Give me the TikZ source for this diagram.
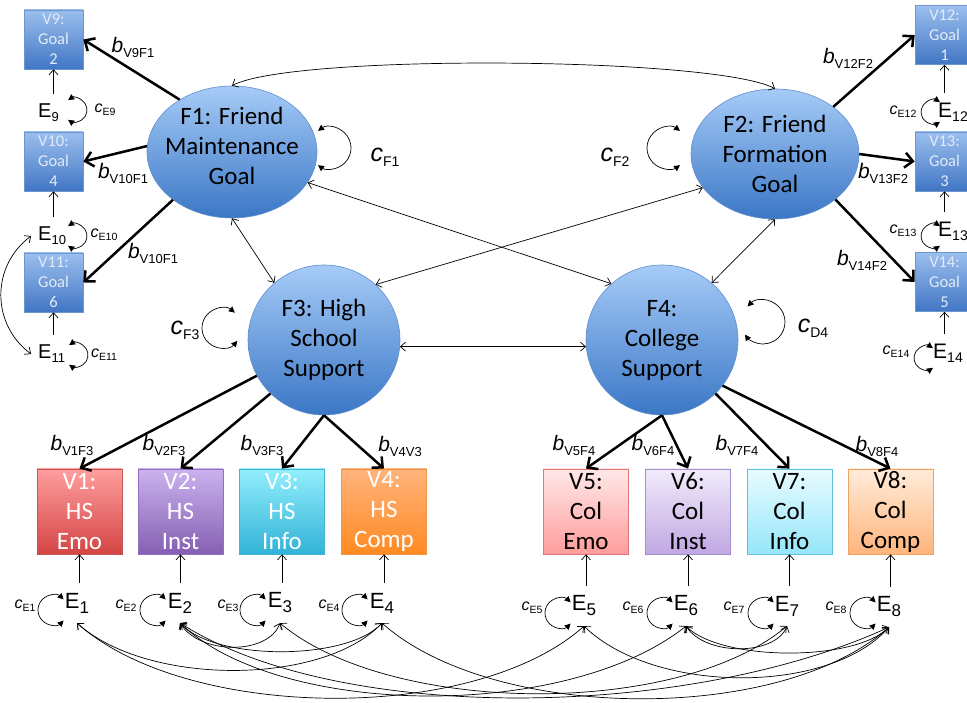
\documentclass[tikz,border=0pt]{standalone}
\usepackage{fontspec}
\setmainfont{Carlito}
\newfontfamily\labfont{Liberation Sans}
\usetikzlibrary{shapes.geometric,arrows.meta,calc}
\definecolor{lattop}{HTML}{A6CBF7}
\definecolor{latbot}{HTML}{3B77C6}
\definecolor{latbd}{HTML}{5F8FCC}
\definecolor{gbt}{HTML}{9BBFEE}
\definecolor{gbb}{HTML}{4176C4}
\definecolor{gbd}{HTML}{6E96CE}
\definecolor{gbtext}{HTML}{E2EBF7}
\definecolor{vat}{HTML}{FF9E9E}\definecolor{vab}{HTML}{D44444}\definecolor{vad}{HTML}{C55555}
\definecolor{vbt}{HTML}{CBB3EE}\definecolor{vbb}{HTML}{855FB2}\definecolor{vbd}{HTML}{9072C2}
\definecolor{vct}{HTML}{92EEFC}\definecolor{vcb}{HTML}{32B3D8}\definecolor{vcd}{HTML}{45B2D2}
\definecolor{vdt}{HTML}{FFB37C}\definecolor{vdb}{HTML}{FF8A22}\definecolor{vdd}{HTML}{F09545}
\definecolor{vet}{HTML}{FFE8E8}\definecolor{veb}{HTML}{FF9C9C}\definecolor{ved}{HTML}{E07575}
\definecolor{vft}{HTML}{F1EBFA}\definecolor{vfb}{HTML}{C1A8E3}\definecolor{vfd}{HTML}{A392CA}
\definecolor{vgt}{HTML}{E8FBFF}\definecolor{vgb}{HTML}{96E6FA}\definecolor{vgd}{HTML}{62C2DE}
\definecolor{vht}{HTML}{FFECDA}\definecolor{vhb}{HTML}{FFB47C}\definecolor{vhd}{HTML}{F0A262}
\newcommand{\myBlab}[1]{{\labfont\fontsize{21}{21}\selectfont\itshape b}\raisebox{-5pt}{\labfont\fontsize{13}{13}\selectfont #1}}
\newcommand{\myCbig}[1]{{\labfont\fontsize{25}{25}\selectfont\itshape c}\raisebox{-5pt}{\labfont\fontsize{14}{14}\selectfont #1}}
\newcommand{\myCsm}[1]{{\labfont\fontsize{16}{16}\selectfont\itshape c}\raisebox{-3pt}{\labfont\fontsize{10.5}{10.5}\selectfont #1}}
\newcommand{\myEbig}[1]{{\labfont\fontsize{22}{22}\selectfont E}\raisebox{-5pt}{\labfont\fontsize{17}{17}\selectfont #1}}
\newcommand{\myEsm}[1]{{\labfont\fontsize{20}{20}\selectfont E}\raisebox{-4pt}{\labfont\fontsize{13}{13}\selectfont #1}}
\newcommand{\myEmd}[1]{{\labfont\fontsize{21}{21}\selectfont E}\raisebox{-4pt}{\labfont\fontsize{14}{14}\selectfont #1}}
\tikzset{
  lat/.style={ellipse, draw=latbd, line width=0.6pt, top color=lattop, bottom color=latbot,
    inner xsep=-22pt, inner ysep=-22pt, align=center, font=\fontsize{25}{30}\selectfont},
  goalbox/.style={rectangle, draw=gbd, line width=0.6pt, top color=gbt, bottom color=gbb,
    minimum width=59pt, minimum height=59pt, inner sep=0pt, align=center, text=gbtext,
    font=\fontsize{16.5}{20}\selectfont},
  obsbox/.style={rectangle, minimum width=85pt, minimum height=85pt, inner sep=0pt,
    align=center, font=\fontsize{25}{30}\selectfont, line width=0.8pt},
  thickarr/.style={line width=2.5pt, -{Straight Barb[length=8pt,width=15pt]}},
  thinarr/.style={line width=0.7pt, -{Straight Barb[length=5pt,width=9pt]}},
  corr/.style={line width=0.7pt, {Straight Barb[length=5pt,width=9pt]}-{Straight Barb[length=5pt,width=9pt]}},
  selfloop/.style={line width=0.7pt, {Triangle[length=6pt,width=6pt]}-{Triangle[length=6pt,width=6pt]}},
  lab/.style={inner sep=0pt},
  evar/.style={inner xsep=1pt, inner ysep=2pt, outer ysep=8pt},
}
\begin{document}
\begin{tikzpicture}[x=1pt,y=1pt]
\useasboundingbox (0,0) rectangle (967,703);
\clip (0,0) rectangle (967,703);
\fill[white] (0,0) rectangle (967,703);

% latent factors
\node[lat, minimum width=170pt, minimum height=132pt] (F1) at (232,551) {F1: Friend\\Maintenance\\Goal\\[-17pt]\mbox{}};
\node[lat, minimum width=168pt, minimum height=130pt] (F2) at (775,549) {F2: Friend\\Formation\\Goal};
\node[lat, minimum width=152pt, minimum height=150pt] (F3) at (324,363) {F3: High\\School\\Support};
\node[lat, minimum width=152pt, minimum height=150pt] (F4) at (662,363) {F4:\\College\\Support};

% goal indicators
\node[goalbox] (V9) at (53.5,663.5) {V9:\\Goal\\2};
\node[goalbox] (V10) at (53.5,541.5) {V10:\\Goal\\4};
\node[goalbox] (V11) at (53.5,420.5) {V11:\\Goal\\6};
\node[goalbox] (V12) at (944.5,668) {V12:\\Goal\\1};
\node[goalbox] (V13) at (944.5,541.5) {V13:\\Goal\\3};
\node[goalbox] (V14) at (944.5,421) {V14:\\Goal\\5};

% support indicators
\node[obsbox, draw=vad, top color=vat, bottom color=vab, text=white] (V1) at (79.5,191.5) {V1:\\HS\\Emo};
\node[obsbox, draw=vbd, top color=vbt, bottom color=vbb, text=white] (V2) at (180.5,191.5) {V2:\\HS\\Inst};
\node[obsbox, draw=vcd, top color=vct, bottom color=vcb, text=white] (V3) at (282,191.5) {V3:\\HS\\Info};
\node[obsbox, draw=vdd, top color=vdt, bottom color=vdb, text=white] (V4) at (384,191.5) {V4:\\HS\\Comp};
\node[obsbox, draw=ved, top color=vet, bottom color=veb] (V5) at (586,191.5) {V5:\\Col\\Emo};
\node[obsbox, draw=vfd, top color=vft, bottom color=vfb] (V6) at (688,191.5) {V6:\\Col\\Inst};
\node[obsbox, draw=vgd, top color=vgt, bottom color=vgb] (V7) at (789.5,191.5) {V7:\\Col\\Info};
\node[obsbox, draw=vhd, top color=vht, bottom color=vhb] (V8) at (890.5,191.5) {V8:\\Col\\Comp};

% errors
\node[evar, anchor=west] (E9) at (37,590) {\myEsm{9}};
\node[evar, anchor=west] (E10) at (37,467) {\myEsm{10}};
\node[evar, anchor=west] (E11) at (37,349) {\myEsm{11}};
\node[evar, anchor=west] (E12) at (937,591) {\myEmd{12}};
\node[evar, anchor=west] (E13) at (937,472) {\myEmd{13}};
\node[evar, anchor=west] (E14) at (932,350) {\myEmd{14}};
\node[evar] (E1) at (77,100) {\myEbig{1}};
\node[evar] (E2) at (180,100) {\myEbig{2}};
\node[evar] (E3) at (280,100) {\myEbig{3}};
\node[evar] (E4) at (382,100) {\myEbig{4}};
\node[evar] (E5) at (584,97) {\myEbig{5}};
\node[evar] (E6) at (686,97) {\myEbig{6}};
\node[evar] (E7) at (787,97) {\myEbig{7}};
\node[evar] (E8) at (889,96) {\myEbig{8}};

% loading arrows
\draw[thickarr] (F1.135) -- (V9.east);
\draw[thickarr] (F1.176) -- (V10.east);
\draw[thickarr] (F1.219) -- (V11.east);
\draw[thickarr] (F2.39) -- (V12.west);
\draw[thickarr] (F2.east) -- (V13.west);
\draw[thickarr] (F2.-37) -- (V14.west);
\draw[thickarr] (F3.208) -- (V1.north);
\draw[thickarr] (F3.225) -- (V2.north);
\draw[thickarr] (F3.south) -- (V3.north);
\draw[thickarr] (F3.south) -- (V4.north);
\draw[thickarr] (F4.south) -- (V5.north);
\draw[thickarr] (F4.south) -- (V6.north);
\draw[thickarr] (F4.-45) -- (V7.north);
\draw[thickarr] (F4.-37) -- (V8.north);

% loading labels
\node[lab] (b9) at (133,656) {\myBlab{V9F1}};
\node[lab] (b10) at (123,530) {\myBlab{V10F1}};
\node[lab] (b11) at (153,450) {\myBlab{V10F1}};
\node[lab] (b12) at (848,645) {\myBlab{V12F2}};
\node[lab] (b13) at (883,530) {\myBlab{V13F2}};
\node[lab] (b14) at (862,443) {\myBlab{V14F2}};
\node[lab] (b1) at (72,258) {\myBlab{V1F3}};
\node[lab] (b2) at (164,258) {\myBlab{V2F3}};
\node[lab] (b3) at (262,258) {\myBlab{V3F3}};
\node[lab] (b4) at (400,257) {\myBlab{V4V3}};
\node[lab] (b5) at (574,258) {\myBlab{V5F4}};
\node[lab] (b6) at (653,258) {\myBlab{V6F4}};
\node[lab] (b7) at (737,258) {\myBlab{V7F4}};
\node[lab] (b8) at (877,257) {\myBlab{V8F4}};

% error arrows
\foreach \e/\v in {E9/V9,E10/V10,E11/V11,E12/V12,E13/V13,E14/V14,E1/V1,E2/V2,E3/V3,E4/V4,E5/V5,E6/V6,E7/V7,E8/V8}
  \draw[thinarr] (\v.south |- \e.north) -- (\v.south);

% factor correlations
\draw[corr] (F1.north) .. controls +(60,32) and +(-60,32) .. (F2.north);
\draw[corr] (F1.south) -- (F3.131);
\draw[corr] (F2.south) -- (F4.49);
\draw[corr] (F1.-22) -- (F4.132);
\draw[corr] (F2.205) -- (F3.47);
\draw[corr] (F3.-5) -- (F4.185);

% factor variances
\draw[selfloop] (330,555) ++(125:21) arc[start angle=125, end angle=-125, radius=21];
\draw[selfloop] (668,555) ++(55:21) arc[start angle=55, end angle=305, radius=21];
\draw[selfloop] (222,375) ++(50:20) arc[start angle=50, end angle=320, radius=20];
\draw[selfloop] (763,381) ++(135:22) arc[start angle=135, end angle=-145, radius=22];
\node[lab] (cF1) at (385,546) {\myCbig{F1}};
\node[lab] (cF2) at (615,546) {\myCbig{F2}};
\node[lab] (cF3) at (185,373) {\myCbig{F3}};
\node[lab] (cD4) at (813,375) {\myCbig{D4}};

% error variances
\foreach \cx/\cy in {75/593,75/467,76/348}
  \draw[selfloop] (\cx,\cy) ++(125:12) arc[start angle=125, end angle=-125, radius=12];
\foreach \cx/\cy in {933/591,933/467,926/345}
  \draw[selfloop] (\cx,\cy) ++(55:12) arc[start angle=55, end angle=305, radius=12];
\foreach \cx/\cy in {53/93,155/93,255/93,357/93,560/90,662/90,763/90,865/90}
  \draw[selfloop] (\cx,\cy) ++(45:15) arc[start angle=45, end angle=315, radius=15];
\node[lab] (cE9) at (105,593) {\myCsm{E9}};
\node[lab] (cE10) at (104,468) {\myCsm{E10}};
\node[lab] (cE11) at (104,348) {\myCsm{E11}};
\node[lab] (cE12) at (903,591) {\myCsm{E12}};
\node[lab] (cE13) at (903,472) {\myCsm{E13}};
\node[lab] (cE14) at (896,351) {\myCsm{E14}};
\node[lab] (cE1) at (25,97) {\myCsm{E1}};
\node[lab] (cE2) at (126,97) {\myCsm{E2}};
\node[lab] (cE3) at (228,97) {\myCsm{E3}};
\node[lab] (cE4) at (329,97) {\myCsm{E4}};
\node[lab] (cE5) at (532,95) {\myCsm{E5}};
\node[lab] (cE6) at (633,95) {\myCsm{E6}};
\node[lab] (cE7) at (734,95) {\myCsm{E7}};
\node[lab] (cE8) at (836,95) {\myCsm{E8}};

% error covariances
\draw[corr] ([xshift=-6pt]E10.west) .. controls +(-40,-30) and +(-40,30) .. ([xshift=-6pt]E11.west);
\draw[corr] (E2.south) .. controls +(20,-32) and +(-12,-32) .. (E3.south);
\draw[corr] (E2.south) .. controls +(35,-38) and +(-35,-38) .. (E4.south);
\draw[corr] (E1.south) .. controls +(70,-63) and +(-60,-63) .. (E4.south);
\draw[corr] (E6.south) .. controls +(20,-30) and +(-12,-30) .. (E7.south);
\draw[corr] (E6.south) .. controls +(35,-35) and +(-35,-35) .. (E8.south);
\draw[corr] (E5.south) .. controls +(70,-68) and +(-60,-68) .. (E8.south);
\draw[corr] (E1.south) .. controls +(110,-98) and +(-110,-98) .. (E5.south);
\draw[corr] (E2.south) .. controls +(100,-95) and +(-120,-95) .. (E6.south);
\draw[corr] (E3.south) .. controls +(110,-92) and +(-110,-92) .. (E7.south);
\draw[corr] (E4.south) .. controls +(110,-98) and +(-110,-98) .. (E8.south);
\draw[corr] (E2.south) .. controls +(160,-102) and +(-200,-92) .. (E8.south);
\end{tikzpicture}
\end{document}
